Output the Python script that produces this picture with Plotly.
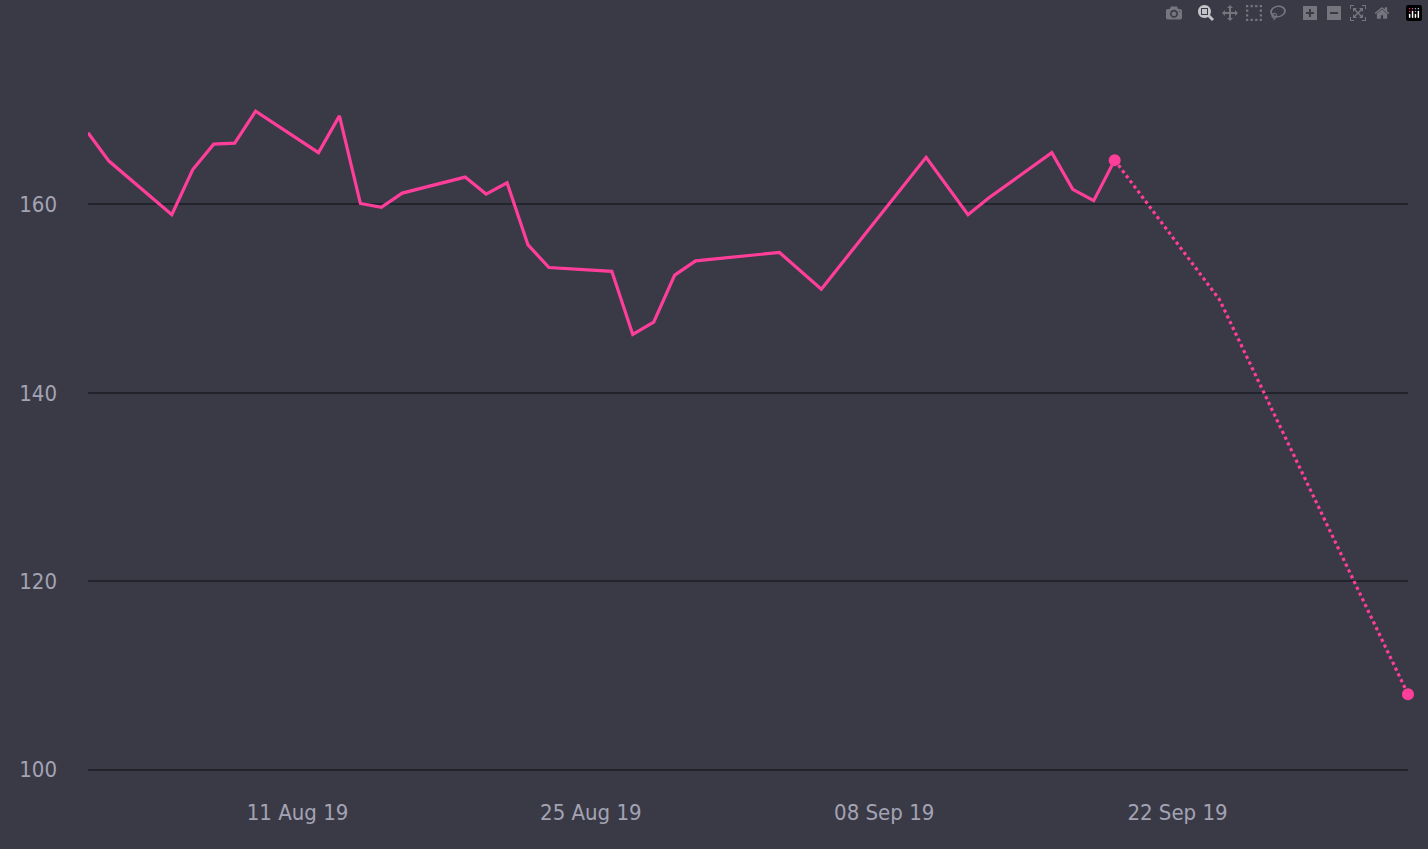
import plotly.graph_objects as go

dates = ["2019-08-01", "2019-08-02", "2019-08-05", "2019-08-06", "2019-08-07", "2019-08-08",
         "2019-08-09", "2019-08-12", "2019-08-13", "2019-08-14", "2019-08-15", "2019-08-16",
         "2019-08-19", "2019-08-20", "2019-08-21", "2019-08-22", "2019-08-23", "2019-08-26",
         "2019-08-27", "2019-08-28", "2019-08-29", "2019-08-30", "2019-09-03", "2019-09-05",
         "2019-09-10", "2019-09-12", "2019-09-13", "2019-09-16", "2019-09-17", "2019-09-18",
         "2019-09-19"]
prices = [167.6, 164.6, 158.9, 163.7, 166.4, 166.5, 169.9, 165.5, 169.4, 160.1, 159.7, 161.2,
          162.9, 161.1, 162.3, 155.7, 153.3, 152.9, 146.2, 147.5, 152.5, 154.0, 154.9, 151.0,
          165.0, 158.9, 160.7, 165.5, 161.6, 160.4, 164.7]

forecast_dates = ["2019-09-19", "2019-09-24", "2019-10-03"]
forecast_prices = [164.7, 149.9, 108.0]

pink = "#ff3e9a"
fig = go.Figure()
fig.add_trace(go.Scatter(x=dates, y=prices, mode="lines", line=dict(color=pink, width=3.2)))
fig.add_trace(go.Scatter(x=forecast_dates, y=forecast_prices, mode="lines",
                         line=dict(color=pink, width=3.2, dash="dot")))
fig.add_trace(go.Scatter(x=[forecast_dates[0], forecast_dates[-1]],
                         y=[forecast_prices[0], forecast_prices[-1]], mode="markers",
                         marker=dict(color=pink, size=12), cliponaxis=False))

fig.update_layout(
    width=1428, height=849, showlegend=False,
    paper_bgcolor="#3a3a47", plot_bgcolor="#3a3a47",
    margin=dict(l=88, r=20, t=0, b=78),
    font=dict(family="DejaVu Sans Condensed", size=22, color="#a3a3b3"),
    xaxis=dict(range=["2019-08-01", "2019-10-03"], showgrid=False, zeroline=False,
               tickvals=["2019-08-11", "2019-08-25", "2019-09-08", "2019-09-22"],
               ticktext=["11 Aug 19", "25 Aug 19", "08 Sep 19", "22 Sep 19"], ticks="",
               ticklabelstandoff=26),
    yaxis=dict(range=[99.85, 181.7], tickvals=[100, 120, 140, 160], gridcolor="#23232b",
               gridwidth=1.5, zeroline=False, ticks="", ticklabelstandoff=30),
)
fig.write_html("out.html", post_script="document.body.style.margin='0';")
